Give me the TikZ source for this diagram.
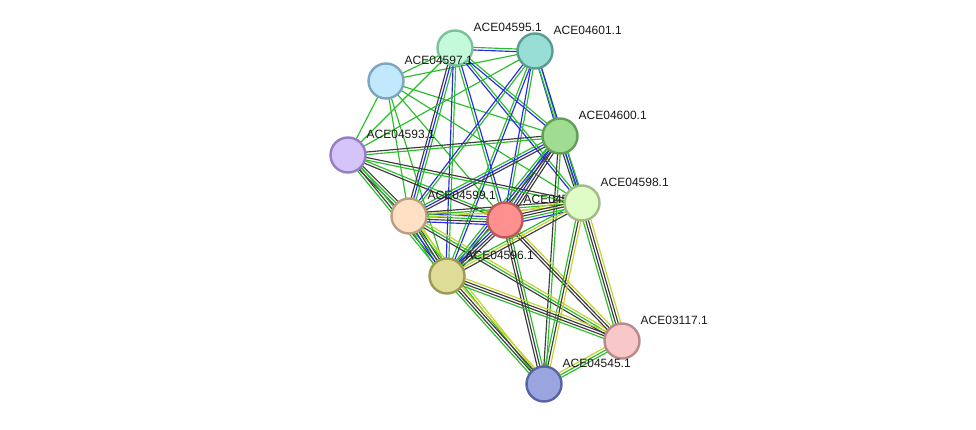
\documentclass[tikz,border=0pt]{standalone}
\usepackage{fontspec}
\setmainfont{Liberation Sans}
\usetikzlibrary{calc}
\definecolor{sg}{RGB}{40,190,40}
\definecolor{sb}{RGB}{40,40,235}
\definecolor{sk}{RGB}{60,60,60}
\definecolor{sy}{RGB}{195,210,40}
\definecolor{f95}{RGB}{196,250,218}\definecolor{b95}{RGB}{122,194,156}
\definecolor{f97}{RGB}{194,232,251}\definecolor{b97}{RGB}{125,165,194}
\definecolor{f01}{RGB}{152,222,212}\definecolor{b01}{RGB}{88,156,148}
\definecolor{f00}{RGB}{160,220,145}\definecolor{b00}{RGB}{95,160,86}
\definecolor{f93}{RGB}{212,196,250}\definecolor{b93}{RGB}{148,128,192}
\definecolor{f99}{RGB}{254,224,196}\definecolor{b99}{RGB}{190,158,128}
\definecolor{f94}{RGB}{255,144,144}\definecolor{b94}{RGB}{192,88,88}
\definecolor{f98}{RGB}{224,252,198}\definecolor{b98}{RGB}{160,188,134}
\definecolor{f96}{RGB}{222,220,150}\definecolor{b96}{RGB}{156,154,84}
\definecolor{f17}{RGB}{248,200,200}\definecolor{b17}{RGB}{184,138,138}
\definecolor{f45}{RGB}{154,164,222}\definecolor{b45}{RGB}{88,100,162}
\newcommand{\sedge}[4]{%
  \foreach \c [count=\i] in {#4}{%
    \pgfmathsetmacro\off{(\i-(#3+1)/2)*2.6}%
    \draw[line width=1.15pt,draw=\c] ($(#1)!\off pt!90:(#2)$) -- ($(#2)!\off pt!-90:(#1)$);
  }%
}
\newcommand{\prot}[4]{% id, x, y, label
  \node[prot,fill=f#1,draw=b#1] (n#1) at (#2,#3) {};
  \node[plabel] (l#1) at ($(n#1)+(18,-21)$) {#4};
}
\tikzset{
  prot/.style={circle,minimum size=35pt,inner sep=0pt,line width=2.4pt},
  plabel/.style={anchor=west,inner sep=0.5pt,font=\fontsize{12}{14}\selectfont,text=black!90}
}
\begin{document}
\begin{tikzpicture}[x=1pt,y=-1pt]
\useasboundingbox (0,0) rectangle (976,430);
% coordinates
\coordinate (p95) at (455,48);
\coordinate (p01) at (535,51);
\coordinate (p97) at (386,81);
\coordinate (p00) at (560,136);
\coordinate (p93) at (348,155);
\coordinate (p98) at (582,203);
\coordinate (p99) at (409,216);
\coordinate (p94) at (505,220);
\coordinate (p96) at (447,276);
\coordinate (p17) at (622,341);
\coordinate (p45) at (544,384);
% edges
\sedge{p95}{p01}{2}{sb,sg}
\sedge{p97}{p95}{1}{sg}
\sedge{p97}{p01}{1}{sg}
\sedge{p97}{p00}{1}{sg}
\sedge{p97}{p93}{1}{sg}
\sedge{p97}{p99}{1}{sg}
\sedge{p97}{p96}{1}{sg}
\sedge{p97}{p94}{1}{sg}
\sedge{p97}{p98}{1}{sg}
\sedge{p95}{p93}{1}{sg}
\sedge{p95}{p00}{2}{sb,sg}
\sedge{p95}{p99}{3}{sk,sb,sg}
\sedge{p95}{p96}{2}{sb,sg}
\sedge{p95}{p94}{2}{sg,sb}
\sedge{p95}{p98}{2}{sb,sg}
\sedge{p01}{p00}{2}{sb,sg}
\sedge{p01}{p93}{1}{sg}
\sedge{p01}{p99}{2}{sb,sg}
\sedge{p01}{p96}{2}{sg,sb}
\sedge{p01}{p94}{2}{sb,sg}
\sedge{p01}{p98}{2}{sg,sb}
\sedge{p00}{p93}{2}{sk,sg}
\sedge{p00}{p99}{3}{sg,sb,sk}
\sedge{p00}{p94}{4}{sg,sb,sk,sk}
\sedge{p00}{p96}{3}{sg,sb,sk}
\sedge{p00}{p98}{3}{sk,sb,sg}
\sedge{p00}{p45}{2}{sk,sg}
\sedge{p93}{p99}{3}{sk,sg,sk}
\sedge{p93}{p94}{2}{sk,sg}
\sedge{p93}{p96}{3}{sg,sk,sg}
\sedge{p93}{p98}{2}{sg,sk}
\sedge{p99}{p94}{5}{sb,sk,sg,sb,sy}
\sedge{p99}{p98}{3}{sy,sg,sk}
\sedge{p99}{p96}{5}{sg,sb,sk,sk,sy}
\sedge{p99}{p17}{3}{sk,sg,sy}
\sedge{p99}{p45}{2}{sg,sy}
\sedge{p94}{p98}{5}{sb,sg,sk,sk,sy}
\sedge{p94}{p96}{4}{sg,sb,sk,sk}
\sedge{p94}{p17}{3}{sk,sk,sy}
\sedge{p94}{p45}{3}{sk,sk,sg}
\sedge{p98}{p96}{3}{sg,sy,sk}
\sedge{p98}{p17}{4}{sg,sk,sk,sy}
\sedge{p98}{p45}{3}{sg,sk,sy}
\sedge{p96}{p17}{4}{sg,sk,sk,sy}
\sedge{p96}{p45}{4}{sg,sk,sk,sy}
\sedge{p17}{p45}{3}{sy,sg,sg}
% nodes
\prot{95}{455}{48}{ACE04595.1}
\prot{97}{386}{81}{ACE04597.1}
\prot{01}{535}{51}{ACE04601.1}
\prot{00}{560}{136}{ACE04600.1}
\prot{93}{348}{155}{ACE04593.1}
\prot{99}{409}{216}{ACE04599.1}
\prot{94}{505}{220}{ACE04594.1}
\prot{98}{582}{203}{ACE04598.1}
\prot{96}{447}{276}{ACE04596.1}
\prot{17}{622}{341}{ACE03117.1}
\prot{45}{544}{384}{ACE04545.1}
\end{tikzpicture}
\end{document}
